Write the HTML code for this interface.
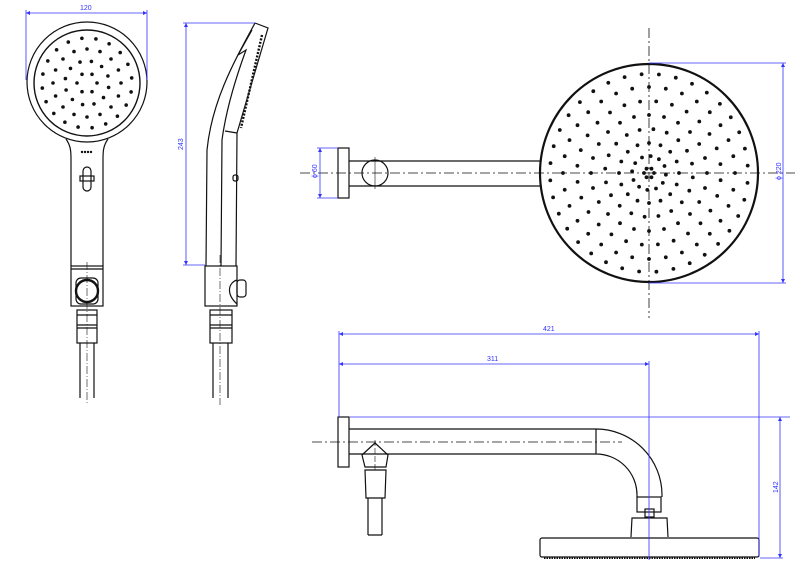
<!DOCTYPE html>
<html><head><meta charset="utf-8"><style>
html,body{margin:0;padding:0;background:#fff}
svg{display:block}
text{font-family:"Liberation Sans",sans-serif;font-size:7px;fill:#3333ff}
</style></head><body>
<svg id="s" width="800" height="577" viewBox="0 0 800 577" xmlns="http://www.w3.org/2000/svg">
<g fill="none" stroke="#111" stroke-width="1.2">
<!-- front handset -->
<circle cx="87" cy="82" r="60"/>
<circle cx="87" cy="83" r="53" stroke-width="1.4"/>
<path d="M66,139 C71,146 71,152 71,160 L71,266 M108,139 C103,146 103,152 103,160 L103,266"/>
<rect x="71" y="266" width="32" height="40"/>
<path d="M71,269 H103"/>
<rect x="76" y="278" width="22" height="26" rx="5"/>
<circle cx="87" cy="291" r="11" stroke-width="2.4"/>
<rect x="77" y="310" width="20" height="33"/>
<path d="M77,315 H97 M77,325 H97 M77,328 H97"/>
<path d="M80,343 V398 M94,343 V398"/>
<rect x="83" y="167" width="8" height="24" rx="4"/>
<rect x="80" y="176" width="14" height="5"/>
<path d="M87,262 V405" stroke-dasharray="8,2,1,2" stroke-width="0.6"/>
<!-- side view handset -->
<path d="M255,23 C235,60 212,100 207,150 L206,266"/>
<path d="M255,23 L268,28 L237,133 L236,266"/>
<path d="M252,30 L238,55 L246,50 C235,80 226,110 222,140 L221,266"/>
<path d="M225,131 L237,133"/>
<path d="M262,35 L241,128" stroke-dasharray="2,1.5" stroke-width="2.4"/>
<rect x="233" y="175" width="5" height="6" rx="2"/>
<rect x="205" y="266" width="32" height="40"/>
<path d="M237,280 C228,283 226,294 237,304"/>
<rect x="237" y="280" width="9" height="17" rx="3"/>
<rect x="210" y="310" width="22" height="33"/>
<path d="M210,315 H232 M210,325 H232 M210,328 H232"/>
<path d="M213,343 V398 M228,343 V398"/>
<path d="M220,255 V405" stroke-dasharray="8,2,1,2" stroke-width="0.6"/>
<!-- top right plan -->
<rect x="338" y="148" width="11" height="50"/>
<path d="M349,161 H540 M349,186 H540"/>
<circle cx="375" cy="173" r="13"/>
<circle cx="649" cy="173" r="109" stroke-width="2.2"/>
<path d="M300,173 H795" stroke-dasharray="10,3,2,3" stroke-width="0.8"/>
<path d="M649,28 V318" stroke-dasharray="10,3,2,3" stroke-width="0.8"/>
<path d="M375,157 V189" stroke-width="0.6"/>
<!-- bottom elevation -->
<rect x="338" y="417" width="11" height="50"/>
<path d="M349,429 H596 A66,66 0 0 1 662,495 V497 M349,454 H596 A41,41 0 0 1 637,495 V497 M596,429 V454"/>
<rect x="637" y="497" width="24" height="15"/>
<rect x="645" y="509" width="9" height="8"/>
<path d="M631,537 L632,518 H667 L668,537"/>
<rect x="540" y="538" width="219" height="19" rx="2"/>
<path d="M544,558 H755" stroke-dasharray="1.5,1" stroke-width="2"/>
<path d="M362,455 L375,443 L388,455 L386,467 H365 Z"/>
<path d="M365,470 H386 L385,498 H366 Z"/>
<path d="M368,498 V535 M382,498 V535 M368,535 H382" />
<path d="M312,442 H622" stroke-dasharray="10,3,2,3" stroke-width="0.8"/>
<path d="M375,440 V470" stroke-dasharray="6,2" stroke-width="0.6"/>
</g>
<g id="dots" fill="#111"></g>
<g stroke="#3333ff" stroke-width="0.8" fill="none">
<path d="M26,13 H147 M26,10 V80 M147,10 V80"/>
<path d="M186,23 V265 M183,23 H255 M183,265 H205"/>
<path d="M320,148 V198 M317,148 H338 M317,198 H338"/>
<path d="M783,63 V283 M649,63 H786 M649,283 H786"/>
<path d="M339,334 H759 M339,364 H649 M339,331 V417 M759,331 V557 M649,361 V560 M350,417 H790 M780,417 V558 M760,558 H783"/>
</g>
<g fill="#3333ff">
<path d="M26,13 l4,-2 v4z M147,13 l-4,-2 v4z M186,23 l-2,4 h4z M186,265 l-2,-4 h4z M320,148 l-2,4 h4z M320,198 l-2,-4 h4z M783,63 l-2,4 h4z M783,283 l-2,-4 h4z M339,334 l4,-2 v4z M759,334 l-4,-2 v4z M339,364 l4,-2 v4z M649,364 l-4,-2 v4z M780,417 l-2,4 h4z M780,558 l-2,-4 h4z"/>
</g>
<text x="80" y="10">120</text>
<text transform="translate(183,150) rotate(-90)">243</text>
<text transform="translate(317,178) rotate(-90)">ϕ 60</text>
<text transform="translate(781,180) rotate(-90)">ϕ 220</text>
<text x="543" y="331">421</text>
<text x="487" y="361">311</text>
<text transform="translate(778,493) rotate(-90)">142</text>
</svg>
<script>
(function(){
var g=document.getElementById('dots'),ns='http://www.w3.org/2000/svg';
function d(x,y,r){var c=document.createElementNS(ns,'circle');c.setAttribute('cx',x.toFixed(1));c.setAttribute('cy',y.toFixed(1));c.setAttribute('r',r);g.appendChild(c);}
var cx=649,cy=173;
var rings=[[5,6],[17,12],[30,16],[44,20],[58,24],[72,28],[86,32],[99,36]];
rings.forEach(function(q,i){for(var k=0;k<q[1];k++){var a=2*Math.PI*k/q[1]+(i%2?0.1:0);d(cx+q[0]*Math.cos(a),cy+q[0]*Math.sin(a),1.9);}});
var hx=87,hy=83;
[[10,6],[22,12],[34,16],[45,20]].forEach(function(q,i){for(var k=0;k<q[1];k++){var a=2*Math.PI*k/q[1]+(i%2?0.2:0);d(hx+q[0]*Math.cos(a),hy+q[0]*Math.sin(a),1.8);}});
for(var i=0;i<4;i++)d(82+i*3,152,1.2);
})();
</script>
</body></html>
